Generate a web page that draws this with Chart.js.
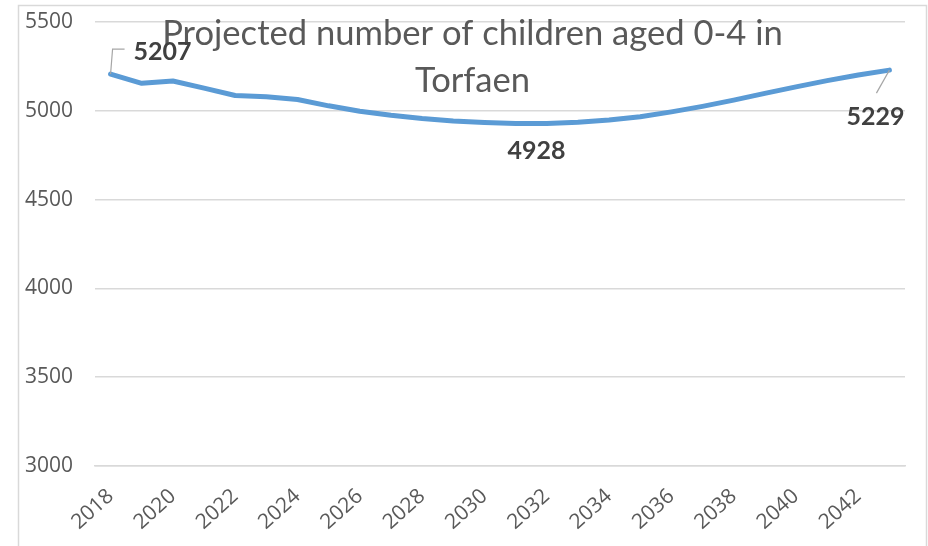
<!DOCTYPE html>
<html>
<head>
<meta charset="utf-8">
<script src="https://cdn.jsdelivr.net/npm/chart.js@4.4.1/dist/chart.umd.min.js"></script>
<style>
  html, body { margin: 0; padding: 0; background: #fff; }
  #wrap { width: 928px; height: 546px; position: relative; }
</style>
</head>
<body>
<div id="wrap"><canvas id="childrenChart" width="928" height="546"></canvas></div>
<script>
// Projected number of children aged 0-4 in Torfaen
const years = ['2018', '2019', '2020', '2021', '2022', '2023', '2024', '2025', '2026',
  '2027', '2028', '2029', '2030', '2031', '2032', '2033', '2034', '2035', '2036',
  '2037', '2038', '2039', '2040', '2041', '2042', '2043'];
const childrenAged0to4 = [5207, 5155, 5168, 5128, 5086, 5079, 5064, 5028, 4997,
  4975, 4957, 4943, 4934, 4928, 4929, 4936, 4948, 4966, 4994,
  5025, 5060, 5098, 5135, 5170, 5202, 5229];
const xTickLabels = ['2018', '2020', '2022', '2024', '2026', '2028', '2030',
  '2032', '2034', '2036', '2038', '2040', '2042'];
const yTickValues = [3000, 3500, 4000, 4500, 5000, 5500];
const titleLines = ['Projected number of children aged 0-4 in', 'Torfaen'];
const labelledPoints = [0, 13, 25];

const GRID = '#d9d9d9';
const TEXT = '#595959';

// where each value label sits relative to its point
const labelPlacement = {
  0: { dx: 52, dy: -22, leader: [[2, -25], [14, -25]] },
  13: { dx: 21, dy: 27, leader: [] },
  25: { dx: -14, dy: 47, leader: [[-13, 23]] }
};

const frameAndTitle = {
  id: 'frameAndTitle',
  beforeDraw(chart) {
    const c = chart.ctx;
    c.save();
    c.fillStyle = '#fff';
    c.fillRect(0, 0, chart.width, chart.height);
    c.strokeStyle = GRID;
    c.lineWidth = 1.5;
    c.beginPath();
    c.moveTo(18.5, chart.height + 2);
    c.lineTo(18.5, 5.5);
    c.lineTo(926.5, 5.5);
    c.lineTo(926.5, chart.height + 2);
    c.stroke();
    c.restore();
  },
  afterDraw(chart) {
    const c = chart.ctx;
    const area = chart.chartArea;
    const cx = (18 + 927) / 2;
    c.save();
    c.fillStyle = TEXT;
    c.font = '34.6px Lato';
    c.textAlign = 'center';
    c.textBaseline = 'alphabetic';
    c.fillText(titleLines[0], cx, area.top + 23);
    c.fillText(titleLines[1], cx, area.top + 70);

    // value labels
    const meta = chart.getDatasetMeta(0);
    c.font = 'bold 25px Lato';
    c.fillStyle = '#404040';
    c.textBaseline = 'middle';
    labelledPoints.forEach(i => {
      const pt = meta.data[i];
      const p = labelPlacement[i];
      if (p.leader.length) {
        c.strokeStyle = '#a6a6a6';
        c.lineWidth = 1.2;
        c.beginPath();
        c.moveTo(pt.x, pt.y);
        p.leader.forEach(([lx, ly]) => c.lineTo(pt.x + lx, pt.y + ly));
        c.stroke();
      }
      c.fillText(String(childrenAged0to4[i]), pt.x + p.dx, pt.y + p.dy);
    });
    c.restore();
  }
};

new Chart(document.getElementById('childrenChart'), {
  type: 'line',
  data: {
    labels: years,
    datasets: [{
      data: childrenAged0to4,
      borderColor: '#5b9bd5',
      borderWidth: 5,
      borderCapStyle: 'round',
      borderJoinStyle: 'round',
      pointRadius: 0,
      tension: 0,
      fill: false
    }]
  },
  options: {
    responsive: false,
    animation: false,
    devicePixelRatio: 1,
    layout: { padding: { left: 18, right: 23, top: 22, bottom: 0 } },
    plugins: {
      legend: { display: false },
      title: { display: false },
      tooltip: { enabled: false }
    },
    scales: {
      x: {
        offset: true,
        grid: { display: false },
        border: { display: true, color: GRID, width: 1.5 },
        ticks: {
          autoSkip: false,
          minRotation: 42,
          maxRotation: 42,
          padding: 10,
          color: TEXT,
          font: { family: 'Open Sans', size: 21 },
          callback: function (value) {
            const label = this.getLabelForValue(value);
            return xTickLabels.includes(label) ? label : '';
          }
        },
        afterFit(scale) { scale.height = 80; }
      },
      y: {
        min: yTickValues[0],
        max: yTickValues[yTickValues.length - 1],
        grid: { color: GRID, lineWidth: 1.5, drawTicks: false },
        border: { display: false },
        ticks: {
          stepSize: yTickValues[1] - yTickValues[0],
          padding: 22,
          color: TEXT,
          font: { family: 'Open Sans', size: 21 },
          callback: value => String(value)
        },
        afterFit(scale) {
          scale.width = 77;
          scale.paddingTop = 0;
          scale.paddingBottom = 0;
        }
      }
    }
  },
  plugins: [frameAndTitle]
});
</script>
</body>
</html>
